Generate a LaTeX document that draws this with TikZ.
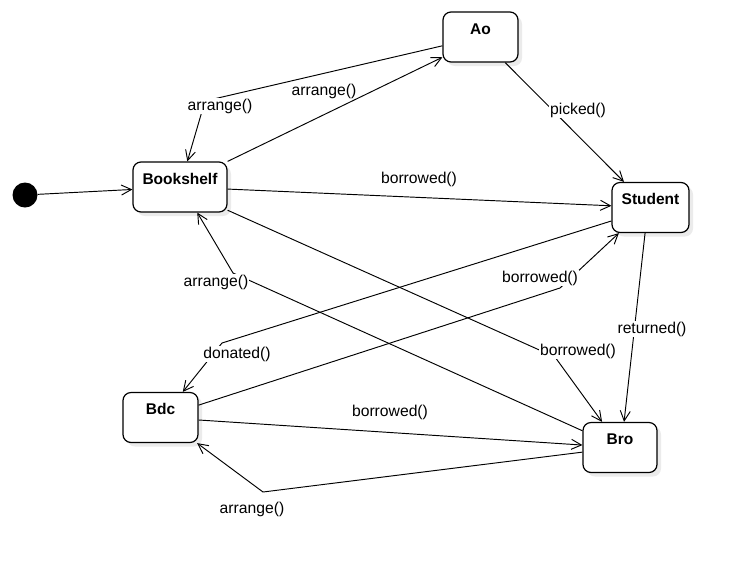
\documentclass[tikz,border=0pt]{standalone}
\usepackage{fontspec}
\setmainfont{Liberation Sans}
\usetikzlibrary{arrows.meta,shadows}
\begin{document}
\begin{tikzpicture}[x=1pt,y=-1pt,
  state/.style={draw, line width=1.2pt, rounded corners=8pt, fill=white,
    font=\fontsize{15.5}{18}\selectfont\bfseries, inner sep=0pt,
    text height=22pt, text depth=28pt, minimum height=50pt,
    drop shadow={shadow xshift=4pt, shadow yshift=-4pt, opacity=0.08, fill=black}},
  lbl/.style={fill=white, inner sep=1pt, font=\fontsize{15.7}{18}\selectfont},
  arr/.style={draw, line width=0.95pt, -{Straight Barb[length=10pt,width=10pt]}},
]
\useasboundingbox (0,0) rectangle (741,566);

% states
\node[circle, fill=black, minimum size=25pt, inner sep=0pt] (init) at (25,195) {};
\node[state, minimum width=94pt] (bookshelf) at (180,187) {Bookshelf};
\node[state, minimum width=75pt] (ao) at (480.5,37) {Ao};
\node[state, minimum width=77pt] (student) at (650.5,207.5) {Student};
\node[state, minimum width=75pt] (bdc) at (160.5,417.5) {Bdc};
\node[state, minimum width=74pt] (bro) at (620,447.5) {Bro};

% transitions
\draw[arr] (init) -- (bookshelf);
\draw[arr] (bookshelf.north east) -- (ao.208);
\draw[arr] (ao.193) -- (205,101) -- (bookshelf.74);
\draw[arr] (bookshelf) -- (student);
\draw[arr] (ao.314) -- (student.136);
\draw[arr] (student.258) -- (bro.81);
\draw[arr] (bookshelf.334) -- (555,357) -- (bro.125);
\draw[arr] (bro.156) -- (233,273) -- (bookshelf.304);
\draw[arr] (student.199) -- (222,343) -- (bdc.49);
\draw[arr] (bdc.18) -- (560,288) -- (student.219);
\draw[arr] (bdc) -- (bro);
\draw[arr] (bro.187) -- (263,492) -- (bdc.325);

% labels
\node[lbl, inner sep=0pt] (l1) at (324,91) {arrange()};
\node[lbl] (l2) at (220,106) {arrange()};
\node[lbl] (l3) at (419,179) {borrowed()};
\node[lbl] (l4) at (578,110) {picked()};
\node[lbl] (l5) at (540,278) {borrowed()};
\node[lbl] (l6) at (652,329) {returned()};
\node[lbl] (l7) at (578,351) {borrowed()};
\node[lbl] (l8) at (216,282) {arrange()};
\node[lbl] (l9) at (237,354) {donated()};
\node[lbl] (l10) at (390,412) {borrowed()};
\node[lbl] (l11) at (252,509) {arrange()};
\end{tikzpicture}
\end{document}
